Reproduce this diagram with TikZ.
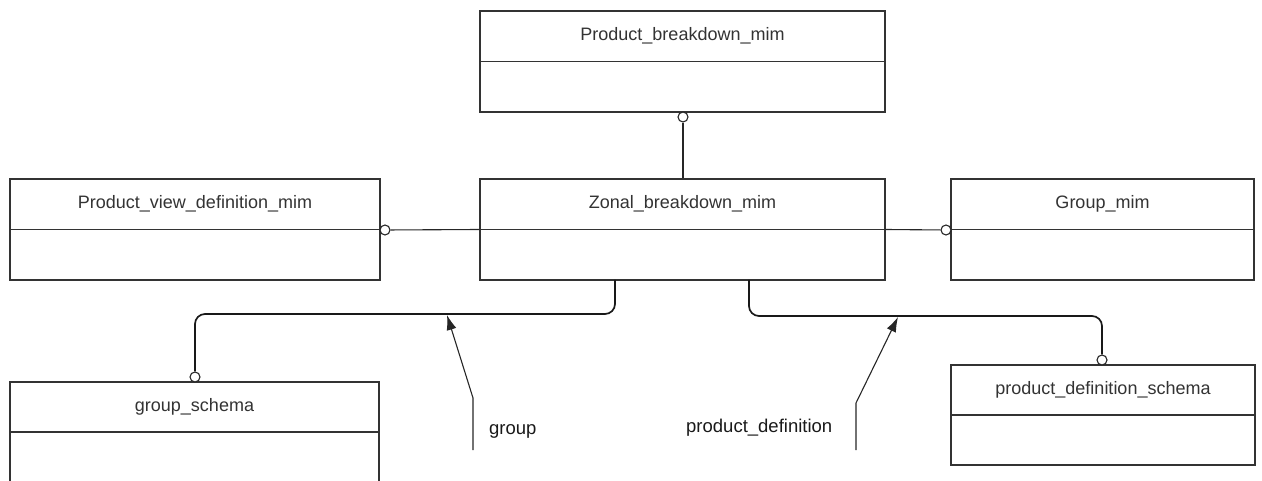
\documentclass[tikz,border=0pt]{standalone}
\usepackage{fontspec}
\setmainfont{Liberation Sans}
\usetikzlibrary{arrows.meta,calc}
\begin{document}
\begin{tikzpicture}[x=1pt,y=-1pt,
  box/.style={draw=black!80,line width=1.2pt,minimum height=101pt,inner sep=0pt,fill=white},
  ttl/.style={font=\fontsize{18}{20}\selectfont,text=black!80,inner sep=0pt},
  lbl/.style={font=\fontsize{18.5}{20}\selectfont,text=black!90,inner sep=0pt},
  circ/.style={circle,draw=black!85,fill=white,line width=1.1pt,minimum size=10pt,inner sep=0pt},
  conn/.style={draw=black!85,line width=1.1pt},
  busline/.style={draw=black!90,line width=1.7pt,rounded corners=10pt},
  ptr/.style={draw=black!85,line width=1.1pt,-{Latex[length=15pt,width=10pt]}}]
\useasboundingbox (0,0) rectangle (1262,481);
% boxes
\node[box,minimum width=405pt] (pbm) at (682.5,61.5) {};
\node[box,minimum width=370pt] (pvd) at (195,229.5) {};
\node[box,minimum width=405pt] (zbm) at (682.5,229.5) {};
\node[box,minimum width=303pt] (gm) at (1102.5,229.5) {};
\node[box,minimum width=369pt,minimum height=100pt] (gs) at (194.5,432) {};
\node[box,minimum width=304pt,minimum height=100pt] (pds) at (1103,415) {};
% dividers and titles
\foreach \b/\t in {pbm/Product\_breakdown\_mim, pvd/Product\_view\_definition\_mim, zbm/Zonal\_breakdown\_mim, gm/Group\_mim, gs/group\_schema, pds/product\_definition\_schema}{
  \draw[draw=black!80,line width=1.2pt] (\b.west) -- (\b.east);
  \node[ttl] (\b-t) at ($(\b.north)!0.5!(\b.center)$) {\t};
}
% circles
\node[circ] (c1) at (683,117) {};
\node[circ] (c2) at (385,230) {};
\node[circ] (c3) at (946,230) {};
\node[circ] (c4) at (195,377) {};
\node[circ] (c5) at (1102,360) {};
% connectors
\draw[conn] (c1) -- (zbm.north -| c1);
\draw[conn] (c2) -- (zbm.west);
\draw[conn] (zbm.east) -- (c3);
\coordinate (gsA) at (615,280);
\coordinate (pdA) at (749,280);
\draw[busline] (gsA) -- (615,314) -- (195,314) -- (c4);
\draw[busline] (pdA) -- (749,316) -- (1102,316) -- (c5);
% labels and pointers
\coordinate (gTip) at (447,315);
\coordinate (pTip) at (898,317);
\coordinate (gStart) at (473,450);
\coordinate (pStart) at (856,450);
\draw[ptr] (gStart) -- (473,398) -- (gTip);
\draw[ptr] (pStart) -- (856,403) -- (pTip);
\node[lbl,anchor=west] (glbl) at (489,431) {group};
\node[lbl,anchor=west] (plbl) at (686,428) {product\_definition};
\end{tikzpicture}
\end{document}
